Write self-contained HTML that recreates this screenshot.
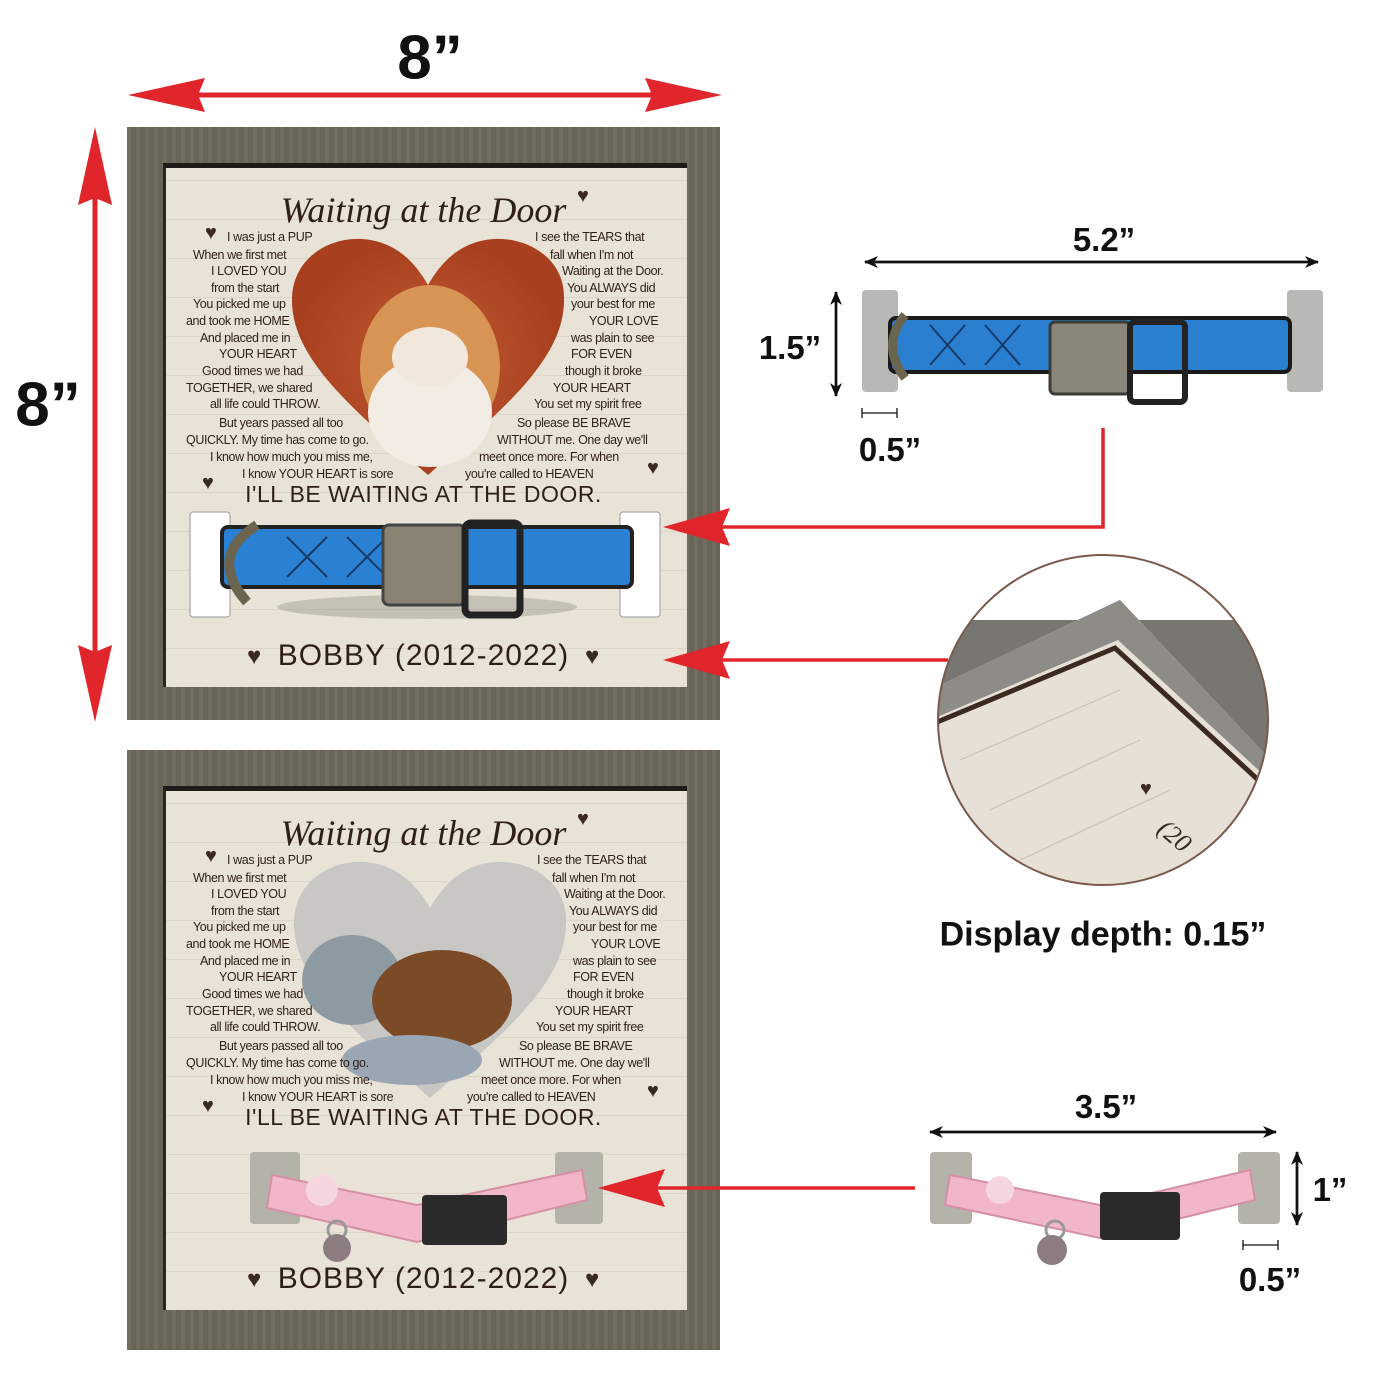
<!DOCTYPE html>
<html><head><meta charset="utf-8"><style>
*{margin:0;padding:0;box-sizing:border-box}
body{width:1400px;height:1400px;background:#fff;position:relative;overflow:hidden;font-family:"Liberation Sans",sans-serif}
.a{position:absolute}
.dim{position:absolute;font-weight:bold;color:#111;white-space:nowrap;transform:translate(-50%,-50%);z-index:3}
.frame{position:absolute;left:127px;width:593px;height:600px;background:#6c675b;background-image:repeating-linear-gradient(90deg,rgba(255,255,255,.03) 0 4px,rgba(0,0,0,.03) 4px 9px)}
.board{position:absolute;left:36px;top:36px;width:524px;height:524px;background:#e9e3d7;border-top:5px solid #1d1a17;border-left:3px solid #2a2622;background-image:repeating-linear-gradient(0deg,#e9e3d7 0 38px,#ddd5c8 38px 39px)}
.t{position:absolute;font-size:12.5px;color:#2e1f18;white-space:nowrap;letter-spacing:-.4px;font-family:"Liberation Sans Narrow","Liberation Sans",sans-serif}
.title{position:absolute;left:0;width:593px;text-align:center;font-family:"Liberation Serif",serif;font-style:italic;font-size:36px;color:#2e1f18}
.wait{position:absolute;left:0;width:593px;text-align:center;font-size:23px;color:#2e1f18;letter-spacing:.5px;font-family:"Liberation Sans Narrow","Liberation Sans",sans-serif}
.bob{position:absolute;left:0;width:593px;text-align:center;font-size:30px;color:#2e1f18;font-family:"Liberation Sans Narrow","Liberation Sans",sans-serif;letter-spacing:1px}
.hrt{position:absolute;font-size:20px;color:#3a2a20}
#top{z-index:2}
</style></head><body>

<div class="dim" style="left:430px;top:58px;font-size:62px">8”</div>
<svg id="top" class="a" style="left:0;top:0" width="1400" height="1400">
<defs>
<marker id="b" markerWidth="14" markerHeight="12" refX="13" refY="6" orient="auto" markerUnits="userSpaceOnUse"><path d="M0,0 L14,6 L0,12 L4,6z" fill="#111"/></marker></defs>
<g stroke="#e0262a" stroke-width="5" fill="#e0262a">
<line x1="190" y1="95" x2="660" y2="95"/><path d="M128,95 L205,78 L198,95 L205,112z" stroke="none"/><path d="M722,95 L645,78 L652,95 L645,112z" stroke="none"/>
<line x1="95" y1="190" x2="95" y2="660"/><path d="M95,127 L78,205 L95,198 L112,205z" stroke="none"/><path d="M95,722 L78,645 L95,652 L112,645z" stroke="none"/>
<polyline points="1103,428 1103,527 720,527" fill="none" stroke-width="3.5"/><path d="M663,527 L730,508 L722,527 L730,546z" stroke="none"/>
<line x1="948" y1="660" x2="720" y2="660" stroke-width="3.5"/><path d="M663,660 L730,641 L722,660 L730,679z" stroke="none"/>
<line x1="915" y1="1188" x2="650" y2="1188" stroke-width="3.5"/><path d="M598,1188 L665,1169 L657,1188 L665,1207z" stroke="none"/>
</g>
<g stroke="#111" stroke-width="2.5">
<line x1="865" y1="262" x2="1318" y2="262" marker-end="url(#b)"/><line x1="1318" y1="262" x2="865" y2="262" marker-end="url(#b)"/>
<line x1="836" y1="292" x2="836" y2="396" marker-end="url(#b)"/><line x1="836" y1="396" x2="836" y2="292" marker-end="url(#b)"/>
<line x1="930" y1="1132" x2="1276" y2="1132" marker-end="url(#b)"/><line x1="1276" y1="1132" x2="930" y2="1132" marker-end="url(#b)"/>
<line x1="1297" y1="1152" x2="1297" y2="1225" marker-end="url(#b)"/><line x1="1297" y1="1225" x2="1297" y2="1152" marker-end="url(#b)"/>
</g>
<g stroke="#111" stroke-width="1.3">
<line x1="862" y1="413" x2="897" y2="413"/><line x1="862" y1="408" x2="862" y2="418"/><line x1="897" y1="408" x2="897" y2="418"/>
<line x1="1243" y1="1245" x2="1278" y2="1245"/><line x1="1243" y1="1240" x2="1243" y2="1250"/><line x1="1278" y1="1240" x2="1278" y2="1250"/>
</g>
<rect x="862" y="290" width="36" height="102" rx="4" fill="#b8b8b4"/><rect x="1287" y="290" width="36" height="102" rx="4" fill="#b8b8b4"/>
<rect x="890" y="318" width="400" height="54" rx="6" fill="#2a7fd0" stroke="#1a1a1a" stroke-width="4"/>
<path d="M930,325 L965,365 M965,325 L930,365 M985,325 L1020,365 M1020,325 L985,365" stroke="#173a66" stroke-width="2"/>
<path d="M905,315 Q880,345 905,378" stroke="#6b6550" stroke-width="9" fill="none"/>
<rect x="1050" y="322" width="80" height="72" rx="5" fill="#8a8579" stroke="#3a3a36" stroke-width="3"/>
<rect x="1130" y="322" width="55" height="80" rx="5" fill="none" stroke="#222" stroke-width="6"/>
<clipPath id="cc"><circle cx="1103" cy="720" r="165"/></clipPath>
<g clip-path="url(#cc)">
<rect x="930" y="550" width="350" height="350" fill="#e6e0d6"/>
<path d="M930,690 L1120,600 L1280,770 L1280,550 L930,550z" fill="#fff"/>
<path d="M930,690 L1120,600 L1280,770 L1280,620 L930,620z" fill="#777670"/>
<path d="M930,720 L1118,640 L1280,790 L1280,770 L1120,600 L930,690z" fill="#8e8c86"/>
<path d="M930,725 L1115,648 L1280,800" stroke="#3a2a22" stroke-width="5" fill="none"/>
<path d="M960,760 L1120,690 M990,810 L1140,740 M1020,860 L1170,790" stroke="#cfc7b9" stroke-width="1.5"/>
<text x="1140" y="795" font-size="20" fill="#3a2a20">♥</text>
<text x="1160" y="840" font-size="26" fill="#3a2a20" font-family="Liberation Serif" font-style="italic" transform="rotate(40 1170 830)">(20</text>
</g>
<circle cx="1103" cy="720" r="165" fill="none" stroke="#7a5a4a" stroke-width="2"/>
<rect x="930" y="1152" width="42" height="72" rx="4" fill="#b4b3a9"/><rect x="1238" y="1152" width="42" height="72" rx="4" fill="#b4b3a9"/>
<path d="M950,1175 L1100,1205 L1250,1170 L1255,1200 L1100,1238 L945,1205z" fill="#f1b6c8" stroke="#d690a6" stroke-width="2"/>
<circle cx="1000" cy="1190" r="14" fill="#f7d7df"/>
<rect x="1100" y="1192" width="80" height="48" rx="4" fill="#2a2a2a"/>
<circle cx="1055" cy="1230" r="9" fill="none" stroke="#999" stroke-width="3"/>
<circle cx="1052" cy="1250" r="15" fill="#8b7d7f"/>
</svg>
<div class="dim" style="left:1104px;top:240px;font-size:33px">5.2”</div>
<div class="dim" style="left:790px;top:348px;font-size:33px">1.5”</div>
<div class="dim" style="left:890px;top:450px;font-size:33px">0.5”</div>
<div class="dim" style="left:1103px;top:935px;font-size:34px">Display depth: 0.15”</div>
<div class="dim" style="left:1106px;top:1107px;font-size:33px">3.5”</div>
<div class="dim" style="left:1330px;top:1190px;font-size:33px">1”</div>
<div class="dim" style="left:1270px;top:1280px;font-size:33px">0.5”</div>
<div class="dim" style="left:48px;top:405px;font-size:62px">8”</div>

<!-- FRAME 1 -->
<div class="frame" style="top:127px;height:593px">
<div class="board"></div>
<div class="title" style="top:62px">Waiting at the Door</div>
<span class="hrt" style="left:78px;top:95px">♥</span><span class="hrt" style="left:450px;top:58px">♥</span><span class="hrt" style="left:75px;top:345px">♥</span><span class="hrt" style="left:520px;top:330px">♥</span>
<svg class="a" style="left:163px;top:110px" width="276" height="240"><defs><radialGradient id="g1"><stop offset="0" stop-color="#c35a34"/><stop offset="1" stop-color="#a8401f"/></radialGradient></defs>
<path d="M138,238 C60,170 0,120 2,60 C4,20 40,0 72,2 C105,4 125,25 138,48 C151,25 171,4 204,2 C236,0 274,20 274,60 C276,120 216,170 138,238z" fill="url(#g1)"/>
<ellipse cx="140" cy="130" rx="70" ry="82" fill="#d89452"/><ellipse cx="140" cy="175" rx="62" ry="55" fill="#f3ece4"/><ellipse cx="140" cy="120" rx="38" ry="30" fill="#f1e7dc"/></svg>
<div class="t" style="left:100px;top:103px">I was just a PUP</div><div class="t" style="left:66px;top:121px">When we first met</div><div class="t" style="left:84px;top:137px">I LOVED YOU</div><div class="t" style="left:84px;top:154px">from the start</div><div class="t" style="left:66px;top:170px">You picked me up</div><div class="t" style="left:59px;top:187px">and took me HOME</div><div class="t" style="left:73px;top:204px">And placed me in</div><div class="t" style="left:92px;top:220px">YOUR HEART</div><div class="t" style="left:75px;top:237px">Good times we had</div><div class="t" style="left:59px;top:254px">TOGETHER, we shared</div><div class="t" style="left:83px;top:270px">all life could THROW.</div><div class="t" style="left:92px;top:289px">But years passed all too</div><div class="t" style="left:59px;top:306px">QUICKLY. My time has come to go.</div><div class="t" style="left:83px;top:323px">I know how much you miss me,</div><div class="t" style="left:115px;top:340px">I know YOUR HEART is sore</div>
<div class="t" style="left:408px;top:103px">I see the TEARS that</div><div class="t" style="left:423px;top:121px">fall when I'm not</div><div class="t" style="left:435px;top:137px">Waiting at the Door.</div><div class="t" style="left:440px;top:154px">You ALWAYS did</div><div class="t" style="left:444px;top:170px">your best for me</div><div class="t" style="left:462px;top:187px">YOUR LOVE</div><div class="t" style="left:444px;top:204px">was plain to see</div><div class="t" style="left:444px;top:220px">FOR EVEN</div><div class="t" style="left:438px;top:237px">though it broke</div><div class="t" style="left:426px;top:254px">YOUR HEART</div><div class="t" style="left:407px;top:270px">You set my spirit free</div><div class="t" style="left:390px;top:289px">So please BE BRAVE</div><div class="t" style="left:370px;top:306px">WITHOUT me. One day we'll</div><div class="t" style="left:352px;top:323px">meet once more. For when</div><div class="t" style="left:338px;top:340px">you're called to HEAVEN</div>
<div class="wait" style="top:354px">I'LL BE WAITING AT THE DOOR.</div>
<svg class="a" style="left:60px;top:380px" width="480" height="115">
<rect x="3" y="5" width="40" height="105" rx="3" fill="#fff" stroke="#999"/><rect x="433" y="5" width="40" height="105" rx="3" fill="#fff" stroke="#999"/>
<ellipse cx="240" cy="100" rx="150" ry="12" fill="#000" opacity=".15"/>
<rect x="35" y="20" width="410" height="60" rx="6" fill="#2a80d2" stroke="#222" stroke-width="4"/>
<path d="M70,18 Q20,50 60,95" stroke="#6b6550" stroke-width="10" fill="none"/>
<path d="M100,30 L140,70 M140,30 L100,70 M160,30 L200,70 M200,30 L160,70" stroke="#173a66" stroke-width="2"/>
<rect x="196" y="18" width="82" height="80" rx="6" fill="#8a8373" stroke="#444" stroke-width="3"/>
<rect x="278" y="16" width="55" height="92" rx="6" fill="none" stroke="#222" stroke-width="7"/>
</svg>
<span class="hrt" style="left:120px;top:516px;font-size:24px">♥</span><span class="hrt" style="left:458px;top:516px;font-size:24px">♥</span>
<div class="bob" style="top:512px">BOBBY (2012-2022)</div>
</div>

<!-- FRAME 2 -->
<div class="frame" style="top:750px">
<div class="board"></div>
<div class="title" style="top:62px">Waiting at the Door</div>
<span class="hrt" style="left:78px;top:95px">♥</span><span class="hrt" style="left:450px;top:58px">♥</span><span class="hrt" style="left:75px;top:345px">♥</span><span class="hrt" style="left:520px;top:330px">♥</span>
<svg class="a" style="left:165px;top:110px" width="276" height="240"><path d="M138,238 C60,170 0,120 2,60 C4,20 40,0 72,2 C105,4 125,25 138,48 C151,25 171,4 204,2 C236,0 274,20 274,60 C276,120 216,170 138,238z" fill="#c9c7c4"/>
<ellipse cx="60" cy="120" rx="50" ry="45" fill="#8e9aa2"/><ellipse cx="150" cy="140" rx="70" ry="50" fill="#7b4a26"/><ellipse cx="120" cy="200" rx="70" ry="25" fill="#9aa6b4"/></svg>
<div class="t" style="left:100px;top:103px">I was just a PUP</div><div class="t" style="left:66px;top:121px">When we first met</div><div class="t" style="left:84px;top:137px">I LOVED YOU</div><div class="t" style="left:84px;top:154px">from the start</div><div class="t" style="left:66px;top:170px">You picked me up</div><div class="t" style="left:59px;top:187px">and took me HOME</div><div class="t" style="left:73px;top:204px">And placed me in</div><div class="t" style="left:92px;top:220px">YOUR HEART</div><div class="t" style="left:75px;top:237px">Good times we had</div><div class="t" style="left:59px;top:254px">TOGETHER, we shared</div><div class="t" style="left:83px;top:270px">all life could THROW.</div><div class="t" style="left:92px;top:289px">But years passed all too</div><div class="t" style="left:59px;top:306px">QUICKLY. My time has come to go.</div><div class="t" style="left:83px;top:323px">I know how much you miss me,</div><div class="t" style="left:115px;top:340px">I know YOUR HEART is sore</div>
<div class="t" style="left:410px;top:103px">I see the TEARS that</div><div class="t" style="left:425px;top:121px">fall when I'm not</div><div class="t" style="left:437px;top:137px">Waiting at the Door.</div><div class="t" style="left:442px;top:154px">You ALWAYS did</div><div class="t" style="left:446px;top:170px">your best for me</div><div class="t" style="left:464px;top:187px">YOUR LOVE</div><div class="t" style="left:446px;top:204px">was plain to see</div><div class="t" style="left:446px;top:220px">FOR EVEN</div><div class="t" style="left:440px;top:237px">though it broke</div><div class="t" style="left:428px;top:254px">YOUR HEART</div><div class="t" style="left:409px;top:270px">You set my spirit free</div><div class="t" style="left:392px;top:289px">So please BE BRAVE</div><div class="t" style="left:372px;top:306px">WITHOUT me. One day we'll</div><div class="t" style="left:354px;top:323px">meet once more. For when</div><div class="t" style="left:340px;top:340px">you're called to HEAVEN</div>
<div class="wait" style="top:354px">I'LL BE WAITING AT THE DOOR.</div>
<svg class="a" style="left:120px;top:400px" width="360" height="125">
<rect x="3" y="2" width="50" height="72" rx="4" fill="#b4b3a9"/><rect x="308" y="2" width="48" height="72" rx="4" fill="#b4b3a9"/>
<path d="M25,25 L170,55 L335,20 L340,50 L170,92 L20,58z" fill="#f1b6c8" stroke="#d690a6" stroke-width="2"/>
<circle cx="75" cy="40" r="16" fill="#f7d7df"/>
<rect x="175" y="45" width="85" height="50" rx="4" fill="#2a2a2a"/>
<circle cx="90" cy="80" r="9" fill="none" stroke="#999" stroke-width="3"/>
<circle cx="90" cy="98" r="14" fill="#8b7d7f"/>
</svg>
<span class="hrt" style="left:120px;top:516px;font-size:24px">♥</span><span class="hrt" style="left:458px;top:516px;font-size:24px">♥</span>
<div class="bob" style="top:512px">BOBBY (2012-2022)</div>
</div>
</body></html>
